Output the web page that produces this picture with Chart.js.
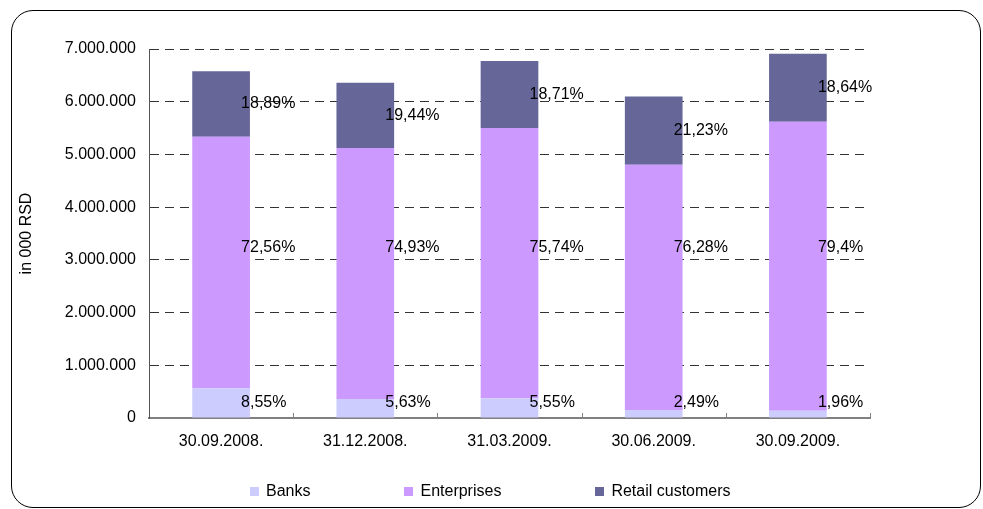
<!DOCTYPE html>
<html>
<head>
<meta charset="utf-8">
<title>Deposits by sector</title>
<script src="https://cdn.jsdelivr.net/npm/chart.js@4/dist/chart.umd.min.js"></script>
<style>
  html, body { margin: 0; padding: 0; background: #fff; }
  #wrap { position: relative; width: 983px; height: 509px; overflow: hidden; font-family: 'Liberation Sans', Arial, sans-serif; }
  #frame { position: absolute; left: 11px; top: 10px; width: 968px; height: 496px; border: 1.5px solid #000; border-radius: 22px; }
  #chart-box { position: absolute; left: 0; top: 0; width: 983px; height: 509px; }
  #legend { position: absolute; left: 250px; top: 482px; display: flex; font-size: 16px; color: #000; }
  #legend .item { display: flex; align-items: center; margin-right: 94px; }
  #legend .item:last-child { margin-right: 0; }
  #legend .swatch { width: 9px; height: 9px; margin-right: 7px; }
</style>
</head>
<body>
<div id="wrap">
  <div id="frame"></div>
  <div id="chart-box"><canvas id="chart-deposits"></canvas></div>
  <div id="legend"></div>
</div>
<script>
// Quarter-end dates
const categories = ['30.09.2008.', '31.12.2008.', '31.03.2009.', '30.06.2009.', '30.09.2009.'];

// Total deposits per date, in 000 RSD
const totals = [6580000, 6360000, 6770000, 6100000, 6910000];

// Sector shares of the total, in %
const banksPct = [8.55, 5.63, 5.55, 2.49, 1.96];
const enterprisesPct = [72.56, 74.93, 75.74, 76.28, 79.4];
const retailPct = [18.89, 19.44, 18.71, 21.23, 18.64];

// Y axis ticks
const yMax = 7000000;
const yStep = 1000000;

const FONT = "'Liberation Sans', Arial, sans-serif";

const fmtThousands = (v) => String(v).replace(/\B(?=(\d{3})+(?!\d))/g, '.');
const fmtPct = (p) => String(p).replace('.', ',') + '%';
const shareOf = (pcts) => pcts.map((p, i) => totals[i] * p / 100);

const series = [
  { label: 'Banks', pcts: banksPct, color: '#CCCCFF' },
  { label: 'Enterprises', pcts: enterprisesPct, color: '#CC99FF' },
  { label: 'Retail customers', pcts: retailPct, color: '#666699' }
];

// where the share labels sit vertically (in axis units) for the two lower sectors
const banksLabelAt = 300000;
const enterprisesLabelAt = 3230000;

// percentage labels, just right of each bar's centre
const shareLabels = {
  id: 'shareLabels',
  afterDatasetsDraw(chart) {
    const { ctx } = chart;
    const yScale = chart.scales.y;
    ctx.save();
    ctx.font = `16px ${FONT}`;
    ctx.fillStyle = '#000';
    ctx.textAlign = 'left';
    ctx.textBaseline = 'middle';
    chart.data.datasets.forEach((ds, di) => {
      const meta = chart.getDatasetMeta(di);
      meta.data.forEach((bar, i) => {
        let y;
        if (di === 0) y = yScale.getPixelForValue(banksLabelAt);
        else if (di === 1) y = yScale.getPixelForValue(enterprisesLabelAt);
        else y = (bar.y + bar.base) / 2;
        ctx.fillText(fmtPct(ds.pcts[i]), bar.x + 20, y);
      });
    });
    ctx.restore();
  }
};

// short tick marks pointing up from the category axis, at category boundaries
const innerTicks = {
  id: 'innerTicks',
  afterDraw(chart) {
    const { ctx } = chart;
    const xScale = chart.scales.x;
    const bottom = chart.chartArea.bottom;
    const half = (xScale.getPixelForValue(1) - xScale.getPixelForValue(0)) / 2;
    ctx.save();
    ctx.strokeStyle = '#808080';
    ctx.lineWidth = 1;
    ctx.beginPath();
    for (let i = 0; i < categories.length; i++) {
      const x = Math.round(xScale.getPixelForValue(i) + half) + 0.5;
      ctx.moveTo(x, bottom);
      ctx.lineTo(x, bottom - 5);
    }
    ctx.stroke();
    ctx.restore();
  }
};

const datasets = series.map(s => ({
  label: s.label,
  data: shareOf(s.pcts),
  pcts: s.pcts,
  backgroundColor: s.color,
  borderWidth: 0,
  categoryPercentage: 1,
  barPercentage: 0.4
}));

new Chart(document.getElementById('chart-deposits'), {
  type: 'bar',
  data: { labels: categories, datasets },
  options: {
    responsive: true,
    maintainAspectRatio: false,
    animation: false,
    layout: { padding: { top: 49, right: 113, bottom: 50, left: 0 } },
    plugins: {
      legend: { display: false },
      tooltip: { enabled: false }
    },
    scales: {
      x: {
        stacked: true,
        grid: { display: false },
        border: { display: true, color: '#808080', width: 2 },
        ticks: { color: '#000', font: { family: FONT, size: 16 }, padding: 6, maxRotation: 0 },
        afterFit: (s) => { s.height = 41; }
      },
      y: {
        stacked: true,
        min: 0,
        max: yMax,
        grid: {
          color: (c) => (c.tick.value === 0 ? 'rgba(0,0,0,0)' : '#333'),
          drawTicks: false
        },
        border: { display: true, color: '#555', width: 1, dash: [9, 6] },
        ticks: {
          stepSize: yStep,
          color: '#000',
          font: { family: FONT, size: 16 },
          padding: 13,
          callback: (v) => fmtThousands(v)
        },
        title: {
          display: true,
          text: 'in 000 RSD',
          color: '#000',
          font: { family: FONT, size: 16 },
          padding: { top: 17, bottom: 0 }
        },
        afterFit: (s) => { s.width = 149; }
      }
    }
  },
  plugins: [shareLabels, innerTicks]
});

// legend row under the plot
const legendEl = document.getElementById('legend');
legendEl.innerHTML = series.map(s => `
  <div class="item"><span class="swatch" style="background:${s.color}"></span><span>${s.label}</span></div>
`).join('');
</script>
</body>
</html>
